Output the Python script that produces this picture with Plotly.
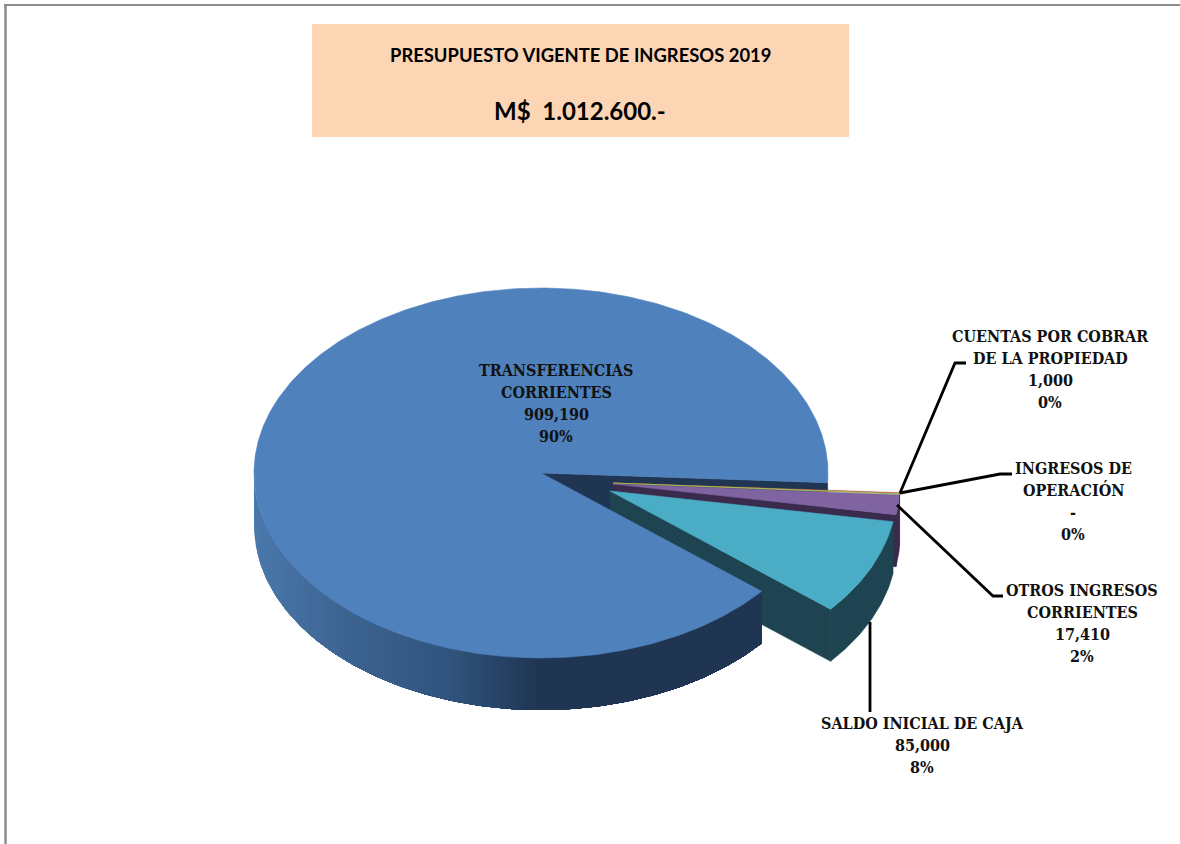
import math
import plotly.graph_objects as go

# ---- data ----
categories = ["CUENTAS POR COBRAR<br>DE LA PROPIEDAD", "INGRESOS DE<br>OPERACIÓN",
              "OTROS INGRESOS<br>CORRIENTES", "SALDO INICIAL DE CAJA",
              "TRANSFERENCIAS<br>CORRIENTES"]
values = [1000, 0, 17410, 85000, 909190]
title_lines = ["PRESUPUESTO VIGENTE DE INGRESOS 2019", "M$  1.012.600.-"]

# ---- style ----
top_colors = ["#C0504D", "#9BBB59", "#8064A2", "#4BACC6", "#4F81BD"]
wall_colors = ["#5A2E2C", "#5A6E33", "#3A2A4C", "#1D4450", "#1F3552"]
CX, CY, RX, RY, DEPTH = 541, 473, 287, 185, 52
START_DEG = 3.0
explode = [(72, 10), (72, 10), (72, 11), (69, 18), (0, 0)]
label_pos = [(1050, 369), (1073, 501), (1082, 623), (922, 745), (556, 403)]
LINE_STEP = 22
leaders = [
    [(900, 493), (955, 363), (966, 363)],
    [(900, 493), (1000, 474), (1012, 474)],
    [(897, 505), (993, 596), (1003, 596)],
    [(870, 622), (870, 712)],
]
FONT_LABEL = "DejaVu Serif Condensed, DejaVu Serif"
FONT_TITLE = "Lato"

total = sum(values)
starts, ends = [], []
a = START_DEG
for v in values:
    starts.append(a)
    a += v / total * 360
    ends.append(a)


def pt(t, ox, oy, dz=0):
    r = math.radians(t)
    return CX + ox + RX * math.cos(r), CY + oy + RY * math.sin(r) + dz


def arc(t0, t1, ox, oy, dz=0):
    n = max(2, int(abs(t1 - t0) * 1.5) + 2)
    return [pt(t0 + (t1 - t0) * i / (n - 1), ox, oy, dz) for i in range(n)]


fig = go.Figure()


def poly(points, color, width=0.6):
    xs = [p[0] for p in points] + [points[0][0]]
    ys = [p[1] for p in points] + [points[0][1]]
    fig.add_trace(go.Scatter(x=xs, y=ys, mode="lines", fill="toself", fillcolor=color,
                             line=dict(color=color, width=width),
                             hoverinfo="skip", showlegend=False))


def top(i):
    ox, oy = explode[i]
    poly([(CX + ox, CY + oy)] + arc(starts[i], ends[i], ox, oy), top_colors[i])


def cut_wall(i, t):
    ox, oy = explode[i]
    c = (CX + ox, CY + oy)
    p = pt(t, ox, oy)
    poly([c, p, (p[0], p[1] + DEPTH), (c[0], c[1] + DEPTH)], wall_colors[i])


def outer_wall(i):
    ox, oy = explode[i]
    poly(arc(starts[i], ends[i], ox, oy) + arc(ends[i], starts[i], ox, oy, DEPTH), wall_colors[i])


# inner cut of the large slice
cut_wall(4, starts[0])

# small slices, back to front
i = 2
cut_wall(i, ends[i])
outer_wall(i)
top(i)
for i in [0, 1]:
    ox, oy = explode[i]
    if values[i] > 0:
        outer_wall(i)
        top(i)
    else:
        poly([(CX + ox, CY + oy), pt(starts[i], ox, oy)], top_colors[i], 1.2)
i = 3
cut_wall(i, ends[i])
outer_wall(i)
top(i)

# large slice: shaded rim, painted left to right, each band covering the remainder
grad = [(254, (74, 120, 171)), (350, (60, 98, 144)), (450, (48, 84, 125)),
        (540, (31, 53, 82)), (830, (31, 53, 82))]


def shade(x):
    for (x0, c0), (x1, c1) in zip(grad, grad[1:]):
        if x <= x1:
            f = max(0, (x - x0) / (x1 - x0))
            return "rgb(%d,%d,%d)" % tuple(round(u + (w - u) * f) for u, w in zip(c0, c1))
    return "rgb(31,53,82)"


rim_end = ends[3]
STEP_PX = 3
xs_rim = list(range(CX - RX, CX + 2, STEP_PX))
for x in xs_rim:
    t0 = math.degrees(math.acos(max(-1, min(1, (x - CX) / RX))))
    poly(arc(t0, rim_end, 0, 0) + arc(rim_end, t0, 0, 0, DEPTH), shade(x + STEP_PX / 2), 0)
top(4)

# leader lines
for path in leaders:
    fig.add_trace(go.Scatter(x=[p[0] for p in path], y=[p[1] for p in path], mode="lines",
                             line=dict(color="black", width=2.8), hoverinfo="skip", showlegend=False))

# data labels
annotations = []
for name, v, (x, y) in zip(categories, values, label_pos):
    val = f"{v:,}" if v else "-"
    pct = f"{round(v / total * 100)}%"
    lines = name.split("<br>") + [val, pct]
    y0 = y - LINE_STEP * (len(lines) - 1) / 2
    for n, line in enumerate(lines):
        annotations.append(dict(x=x, y=y0 + n * LINE_STEP, xref="x", yref="y", showarrow=False,
                                text=f"<b>{line}</b>", align="center",
                                xanchor="center", yanchor="middle",
                                font=dict(family=FONT_LABEL, size=16, color="#111111")))
annotations.append(dict(x=580, y=55, xref="x", yref="y", showarrow=False,
                        text=f"<b>{title_lines[0]}</b>",
                        font=dict(family=FONT_TITLE, size=18.4, color="black")))
annotations.append(dict(x=580, y=110, xref="x", yref="y", showarrow=False,
                        text=f"<b>{title_lines[1]}</b>",
                        font=dict(family=FONT_TITLE, size=24, color="black")))

shapes = [
    dict(type="rect", xref="x", yref="y", x0=312, x1=849, y0=24, y1=137,
         fillcolor="#FCD5B5", line=dict(width=0), layer="below"),
    dict(type="line", xref="x", yref="y", x0=5.5, x1=5.5, y0=4, y1=844, line=dict(color="#8C8C8C", width=2.5)),
    dict(type="line", xref="x", yref="y", x0=4, x1=1180, y0=5, y1=5, line=dict(color="#8C8C8C", width=2)),
]

fig.update_layout(
    width=1180, height=844, autosize=False,
    margin=dict(l=0, r=0, t=0, b=0),
    paper_bgcolor="white", plot_bgcolor="white", showlegend=False,
    xaxis=dict(range=[0, 1180], visible=False, fixedrange=True),
    yaxis=dict(range=[844, 0], visible=False, fixedrange=True),
    annotations=annotations, shapes=shapes,
)
fig.write_html("out.html", config={"displayModeBar": False},
               post_script="document.body.style.margin='0';")
